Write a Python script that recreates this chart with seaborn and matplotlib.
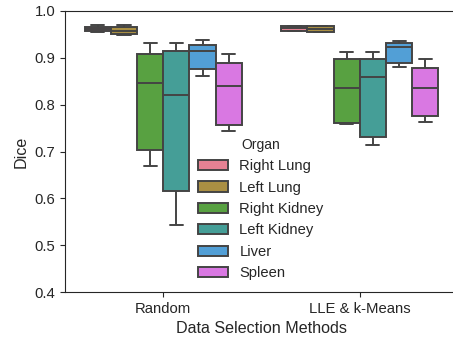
import numpy as np
import pandas as pd
import matplotlib
matplotlib.use("Agg")
import matplotlib.pyplot as plt
import seaborn as sns

methods = ["Random", "LLE & k-Means"]
organs = ["Right Lung", "Left Lung", "Right Kidney", "Left Kidney", "Liver", "Spleen"]

# five Dice values per organ: min, q1, median, q3, max
random_dice = [
    [0.955, 0.958, 0.9625, 0.9665, 0.970],
    [0.949, 0.951, 0.957, 0.966, 0.970],
    [0.670, 0.7025, 0.846, 0.909, 0.931],
    [0.542, 0.616, 0.821, 0.915, 0.931],
    [0.862, 0.8755, 0.9146, 0.9274, 0.939],
    [0.743, 0.7566, 0.8405, 0.888, 0.909],
]
lle_dice = [
    [0.957, 0.958, 0.963, 0.967, 0.968],
    [0.955, 0.956, 0.961, 0.967, 0.969],
    [0.7593, 0.7615, 0.835, 0.897, 0.912],
    [0.713, 0.7316, 0.859, 0.897, 0.912],
    [0.881, 0.889, 0.9238, 0.931, 0.9366],
    [0.7623, 0.7765, 0.835, 0.8776, 0.898],
]

rows = []
for method, table in zip(methods, [random_dice, lle_dice]):
    for organ, vals in zip(organs, table):
        for v in vals:
            rows.append({"Data Selection Methods": method, "Organ": organ, "Dice": v})
df = pd.DataFrame(rows)

sns.set_style("ticks")
plt.rcParams["font.family"] = ["Liberation Sans", "DejaVu Sans"]
plt.rcParams["xtick.major.size"] = 3.5
plt.rcParams["ytick.major.size"] = 3.5

fig = plt.figure(figsize=(4.53, 3.39), dpi=100)
ax = fig.add_axes([65 / 453, 47 / 339, 393 / 453, 281 / 339])

sns.boxplot(data=df, x="Data Selection Methods", y="Dice", hue="Organ",
            order=methods, hue_order=organs, palette="husl",
            linewidth=1.4, linecolor="#444444", ax=ax, whis=1.5)

ax.set_ylim(0.4, 1.0)
ax.set_yticks([0.4, 0.5, 0.6, 0.7, 0.8, 0.9, 1.0])
ax.tick_params(labelsize=10.7)
ax.set_xlabel("Data Selection Methods", fontsize=11.6)
ax.set_ylabel("Dice", fontsize=11.6)

leg = ax.legend(title="Organ", loc="upper left", bbox_to_anchor=(0.305, 0.595),
                frameon=False, fontsize=10.6, title_fontsize=10)

fig.savefig("out.png", dpi=100)
